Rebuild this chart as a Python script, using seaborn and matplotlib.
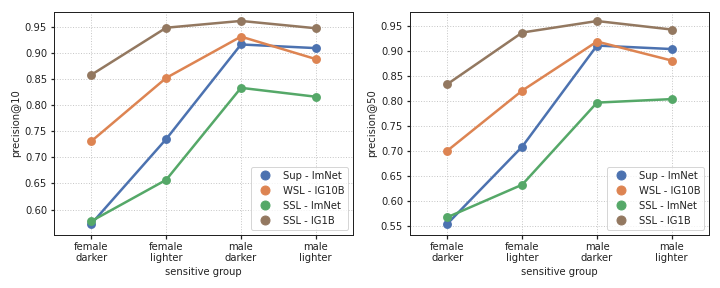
import pandas as pd
import seaborn as sns
import matplotlib.pyplot as plt
from matplotlib.lines import Line2D

groups = ["female\ndarker", "female\nlighter", "male\ndarker", "male\nlighter"]
models = ["Sup - ImNet", "WSL - IG10B", "SSL - ImNet", "SSL - IG1B"]

# precision@10 per model, in group order
p10_sup = [0.573, 0.735, 0.916, 0.909]
p10_wsl = [0.731, 0.852, 0.931, 0.888]
p10_ssl_imnet = [0.578, 0.657, 0.833, 0.816]
p10_ssl_ig1b = [0.858, 0.948, 0.961, 0.947]

# precision@50 per model
p50_sup = [0.554, 0.708, 0.910, 0.903]
p50_wsl = [0.700, 0.820, 0.918, 0.880]
p50_ssl_imnet = [0.567, 0.632, 0.796, 0.803]
p50_ssl_ig1b = [0.833, 0.936, 0.959, 0.942]


def to_long(series, metric):
    rows = []
    for model, vals in zip(models, series):
        for g, v in zip(groups, vals):
            rows.append({"sensitive group": g, "model": model, metric: v})
    return pd.DataFrame(rows)


df10 = to_long([p10_sup, p10_wsl, p10_ssl_imnet, p10_ssl_ig1b], "precision@10")
df50 = to_long([p50_sup, p50_wsl, p50_ssl_imnet, p50_ssl_ig1b], "precision@50")

sns.set_theme(style="whitegrid", rc={
    "axes.edgecolor": "#222222",
    "axes.linewidth": 1.0,
    "grid.linestyle": ":",
    "grid.color": "#c8c8c8",
    "text.color": "#222222",
    "axes.labelcolor": "#222222",
    "xtick.color": "#222222",
    "ytick.color": "#222222",
    "font.size": 10,
    "axes.labelsize": 10,
    "xtick.labelsize": 10,
    "ytick.labelsize": 10,
    "legend.fontsize": 10,
    "xtick.bottom": True,
    "ytick.left": True,
    "xtick.major.size": 3.5,
    "ytick.major.size": 3.5,
})

deep = sns.color_palette("deep")
palette = [deep[0], deep[1], deep[2], deep[5]]

fig, axes = plt.subplots(1, 2, figsize=(10, 4), dpi=72)

for ax, df, metric in [(axes[0], df10, "precision@10"), (axes[1], df50, "precision@50")]:
    sns.pointplot(data=df, x="sensitive group", y=metric, hue="model",
                  hue_order=models, order=groups, ax=ax, errorbar=None,
                  palette=palette, markersize=7, linewidth=2.5)
    ax.grid(True, axis="both")
    handles = [Line2D([], [], marker="o", linestyle="", markersize=9, color=c)
               for c in palette]
    ax.legend(handles, models, loc="lower right", frameon=True, handletextpad=0.8)
    ax.set_xlabel("sensitive group")
    ax.set_ylabel(metric)

axes[0].set_ylim(0.552, 0.979)
axes[1].set_ylim(0.532, 0.978)

plt.subplots_adjust(left=0.075, right=0.985, top=0.96, bottom=0.185, wspace=0.19)
fig.savefig("out.png", dpi=72)
